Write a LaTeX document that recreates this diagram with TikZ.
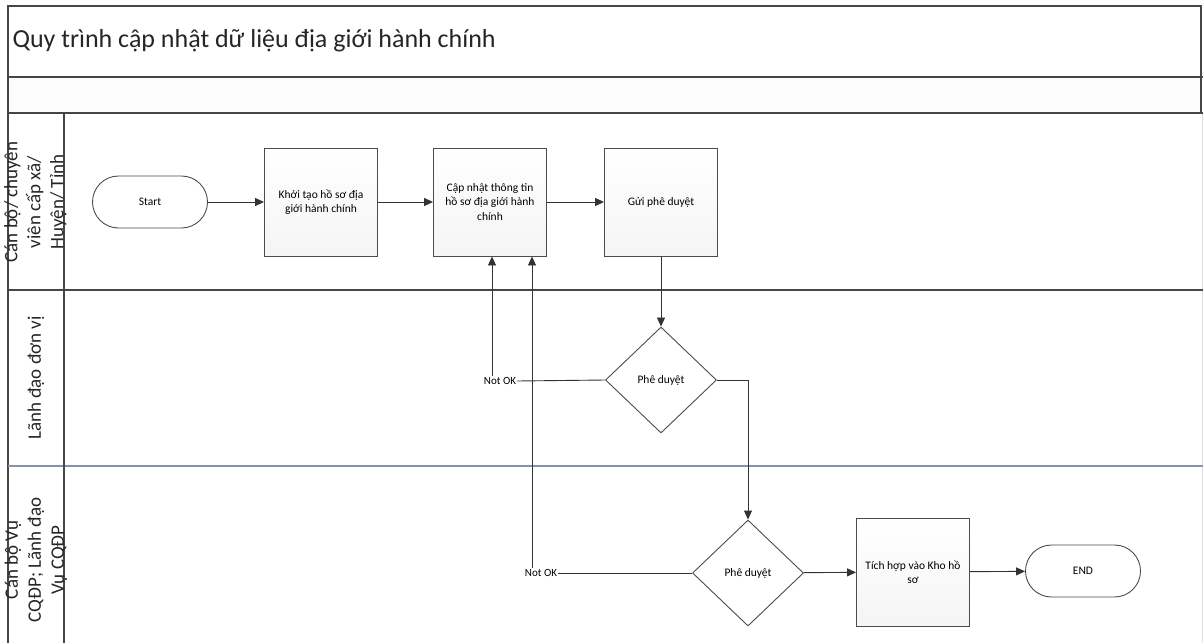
\documentclass[tikz,border=0pt]{standalone}
\usepackage{fontspec}
\setmainfont{Carlito}
\usetikzlibrary{arrows.meta,shapes.geometric}

\definecolor{lanesep}{RGB}{135,148,165}

\begin{document}
\begin{tikzpicture}[x=1pt,y=-1pt,
  frame/.style={draw=gray!55!black,line width=1.6pt},
  proc/.style={draw=black!70,line width=0.9pt,top color=white,bottom color=gray!8,
    minimum width=113pt,minimum height=108pt,align=center,inner sep=2pt,
    font=\fontsize{11.5}{14.5}\selectfont},
  term/.style={draw=black!70,line width=0.9pt,rounded corners=26pt,fill=white,
    minimum width=115pt,minimum height=52pt,font=\fontsize{11.5}{13}\selectfont},
  dec/.style={diamond,draw=black!70,line width=0.9pt,fill=white,
    minimum width=111pt,minimum height=106pt,inner sep=0pt,
    font=\fontsize{11.5}{13}\selectfont},
  arr/.style={draw=black!80,line width=0.9pt,-{Triangle[length=9pt,width=8pt]}},
  link/.style={draw=black!80,line width=0.9pt},
  lanelabel/.style={rotate=90,align=center,font=\fontsize{19}{23}\selectfont,text=black!85},
  tag/.style={font=\fontsize{11}{12}\selectfont,inner sep=1pt,fill=white}
]
\useasboundingbox (0,0) rectangle (1203,643);
\fill[white] (0,0) rectangle (1203,643);

% pool frame and title rows
\fill[gray!2] (8,77) rectangle (1201,113);
\draw[frame] (8,643) -- (8,6) -- (1201,6) -- (1201,113);
\draw[draw=gray!25,line width=0.8pt] (1202,113) -- (1202,643);
\draw[frame] (8,77) -- (1203,77);
\draw[frame] (8,113) -- (1203,113);
\draw[frame] (8,290) -- (1203,290);
\draw[draw=lanesep,line width=1.4pt] (8,466) -- (1203,466);
\draw[frame,line width=1.2pt] (64,113) -- (64,643);

\node[anchor=west,font=\fontsize{26}{30}\selectfont,text=black!85] (title) at (9,41)
  {Quy trình cập nhật dữ liệu địa giới hành chính};

% lane labels
\node[lanelabel] (lane1) at (35.5,202) {Cán bộ/ chuyên\\viên cấp xã/\\Huyện/ Tỉnh};
\node[lanelabel] (lane2) at (36,378) {Lãnh đạo đơn vị};
\node[lanelabel] (lane3) at (36,560) {Cán bộ Vụ\\CQĐP; Lãnh đạo\\Vụ CQĐP};

% process steps
\node[term] (start) at (150,202) {Start};
\node[proc] (init) at (321,202) {Khởi tạo hồ sơ địa\\giới hành chính};
\node[proc] (upd) at (490,202) {Cập nhật thông tin\\hồ sơ địa giới hành\\chính};
\node[proc] (send) at (661,202) {Gửi phê duyệt};
\node[dec] (d1) at (661,380) {Phê duyệt};
\node[dec] (d2) at (748,573) {Phê duyệt};
\node[proc] (integ) at (913,572) {Tích hợp vào Kho hồ\\sơ};
\node[term] (end) at (1083,571) {END};

% connectors
\draw[arr] (start) -- (init);
\draw[arr] (init) -- (upd);
\draw[arr] (upd) -- (send);
\draw[arr] (send) -- (d1);
\draw[arr] (d1.east) -| (d2.north);
\draw[arr] (d2) -- (integ);
\draw[arr] (integ) -- (end);

% rejected branches back to the update step
\coordinate (back1) at ([xshift=2pt]upd.south);
\coordinate (back2) at ([xshift=42pt]upd.south);
\node[tag] (nok1) at (500,381) {Not OK};
\node[tag] (nok2) at (541,573) {Not OK};
\draw[link] (d1.west) -- (nok1.east);
\draw[arr] (nok1.north -| back1) -- (back1);
\draw[link] (d2.west) -- (nok2.east);
\draw[arr] (nok2.north -| back2) -- (back2);
\end{tikzpicture}
\end{document}
